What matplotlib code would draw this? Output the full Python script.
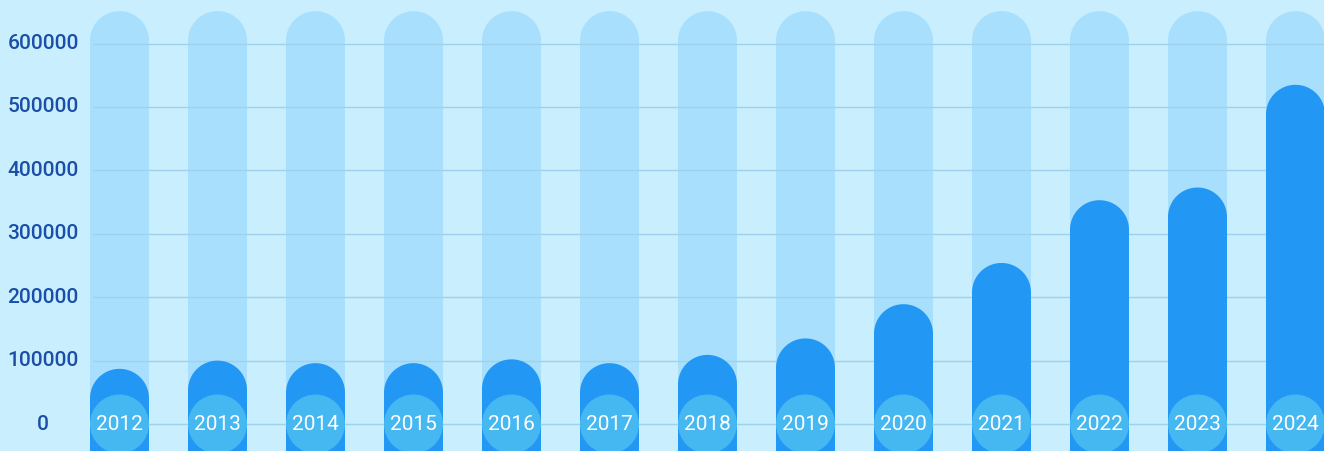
import matplotlib
matplotlib.use("Agg")
import numpy as np
import matplotlib.pyplot as plt
from matplotlib.patches import Polygon, Ellipse

years = ["2012", "2013", "2014", "2015", "2016", "2017", "2018",
         "2019", "2020", "2021", "2022", "2023", "2024"]
values = [87000, 100000, 96000, 96000, 102000, 96000, 109000,
          135000, 189000, 254000, 353000, 373000, 535000]
background_max = 600000
yticks = [0, 100000, 200000, 300000, 400000, 500000, 600000]

BG = "#c9eefd"
BAR_BG = "#a8dffc"
BAR = "#2397f4"
CIRCLE = "#45b8f2"
GRID = "#9fd0ec"
LABEL = "#1a4ea8"

W, H, DPI = 1324, 451, 100
fig = plt.figure(figsize=(W / DPI, H / DPI), dpi=DPI, facecolor=BG)
ax = fig.add_axes([0, 0, 1, 1])
ax.set_facecolor(BG)

spacing_px = 98.0
first_center_px = 119.5
grid_left_px = 93.0
xmin = -first_center_px / spacing_px
xmax = (W - first_center_px) / spacing_px
ax.set_xlim(xmin, xmax)
zero_px = 424.0  # from top
per100k = 63.4
ymax = zero_px / per100k * 100000
ymin = -(H - zero_px) / per100k * 100000
ax.set_ylim(ymin, ymax)

for s in ax.spines.values():
    s.set_visible(False)
ax.set_xticks([])
ax.set_yticks([])

bar_w_px = 59.0
bw = bar_w_px / spacing_px
rx = bw / 2
ry = (bar_w_px / 2) / per100k * 100000
bottom = ymin - 50000


def stadium(xc, top, bot):
    """Bar outline with a semicircular top whose highest point is `top`."""
    cy = top - ry
    th = np.linspace(0, np.pi, 60)
    arc = np.column_stack([xc + rx * np.cos(th), cy + ry * np.sin(th)])
    return np.vstack([[xc + rx, bot], arc, [xc - rx, bot]])


gx0 = (grid_left_px - first_center_px) / spacing_px
ax.hlines(yticks, gx0, xmax, color=GRID, lw=1.0, zorder=2)
for t in yticks:
    ax.text(43 / spacing_px + xmin, t, f"{t}", ha="center", va="center",
            fontsize=15, color=LABEL, family="Roboto", fontweight="medium")

for i, (yr, v) in enumerate(zip(years, values)):
    top_bg = background_max + 1.1 * ry
    ax.add_patch(Polygon(stadium(i, top_bg, bottom), closed=True,
                         facecolor=BAR_BG, edgecolor="none", zorder=1))
    ax.add_patch(Polygon(stadium(i, v, bottom), closed=True,
                         facecolor=BAR, edgecolor="none", zorder=3))
    ax.add_patch(Ellipse((i, 0), bw, 2 * ry, facecolor=CIRCLE,
                         edgecolor="none", zorder=4))
    ax.text(i, -1500, yr, ha="center", va="center", color="white",
            fontsize=15, family="Roboto", zorder=5)

fig.savefig("out.png", dpi=DPI, facecolor=BG)
